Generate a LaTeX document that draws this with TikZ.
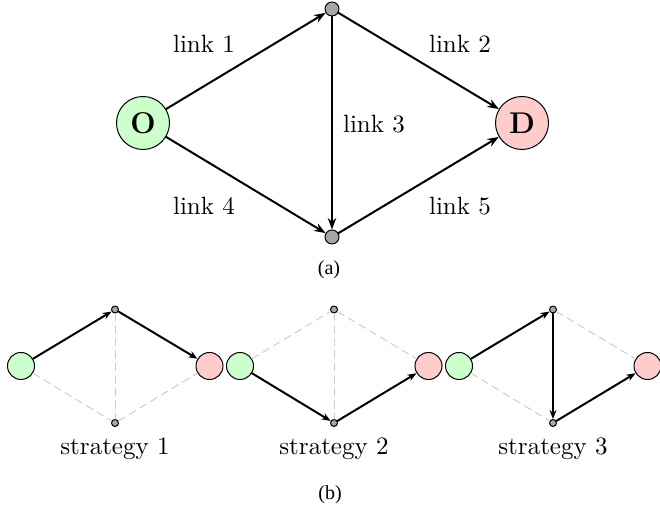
\documentclass[tikz,border=0pt]{standalone}
\usepackage{fontspec}
\newfontfamily\capfont{Liberation Serif}
\usetikzlibrary{arrows.meta}
\definecolor{origin}{HTML}{CCFFCC}
\definecolor{destin}{HTML}{FFCCCC}
\begin{document}
\begin{tikzpicture}[line cap=round,line join=round,x=0.4pt,y=0.4pt,
  big/.style={circle,draw=black,inner sep=0pt,minimum size=21.2pt,font=\large\bfseries},
  bigsmall/.style={circle,draw=black,fill=gray!70,inner sep=0pt,minimum size=5.6pt},
  mini/.style={circle,draw=black,inner sep=0pt,minimum size=10.8pt},
  minismall/.style={circle,draw=black,fill=gray!70,inner sep=0pt,minimum size=2.8pt},
  link/.style={-{Stealth[length=4.6pt,width=3.4pt]},thick},
  sublink/.style={-{Stealth[length=3.6pt,width=2.8pt]},thick},
  unused/.style={gray!40,dash pattern=on 3pt off 2pt}]
\useasboundingbox (0,0) rectangle (660,510);
% (a) the network
\node[big,fill=origin] (O) at (143,387) {O};
\node[big,fill=destin] (D) at (522,387) {D};
\node[bigsmall] (T) at (332,501) {};
\node[bigsmall] (B) at (332,273) {};
\draw[link] (O) -- (T);
\draw[link] (T) -- (D);
\draw[link] (T) -- (B);
\draw[link] (O) -- (B);
\draw[link] (B) -- (D);
\node (l1) at (204,466) {link 1};
\node (l2) at (460,466) {link 2};
\node (l3) at (374,386) {link 3};
\node (l4) at (204,304) {link 4};
\node (l5) at (460,304) {link 5};
\node[font=\capfont\footnotesize] (capa) at (329,240) {(a)};
% (b) the strategies
\foreach \i in {1,2,3}{
  \pgfmathsetmacro{\off}{219*(\i-1)}
  \node[mini,fill=origin] (o\i) at (21+\off,144) {};
  \node[mini,fill=destin] (d\i) at (209.5+\off,144) {};
  \node[minismall] (t\i) at (115+\off,200.5) {};
  \node[minismall] (b\i) at (115+\off,87) {};
  \node (s\i) at (115+\off,61) {strategy \i};
}
\draw[unused] (o1) -- (b1) -- (d1);
\draw[unused] (t1) -- (b1);
\draw[sublink] (o1) -- (t1);
\draw[sublink] (t1) -- (d1);
\draw[unused] (o2) -- (t2) -- (d2);
\draw[unused] (t2) -- (b2);
\draw[sublink] (o2) -- (b2);
\draw[sublink] (b2) -- (d2);
\draw[unused] (o3) -- (b3);
\draw[unused] (t3) -- (d3);
\draw[sublink] (o3) -- (t3);
\draw[sublink] (t3) -- (b3);
\draw[sublink] (b3) -- (d3);
\node[font=\capfont\footnotesize] (capb) at (330,15) {(b)};
\end{tikzpicture}
\end{document}
